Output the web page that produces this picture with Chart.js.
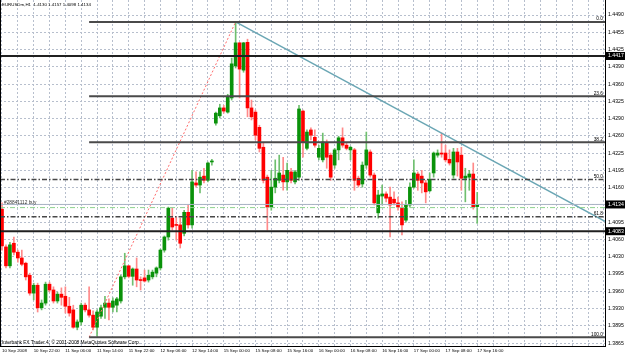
<!DOCTYPE html>
<html><head><meta charset="utf-8">
<script src="https://cdn.jsdelivr.net/npm/chart.js@4.4.0/dist/chart.umd.min.js"></script>
<style>html,body{margin:0;padding:0;background:#fff;overflow:hidden}canvas{display:block}</style>
</head><body>
<canvas id="c" width="625" height="357"></canvas>
<script>
// ---- data (EURUSDm, H1) ----
const openP = [1.4125,1.4053,1.4017,1.4060,1.4043,1.4032,1.4022,1.3999,1.3965,1.3980,
1.3937,1.3946,1.3982,1.3971,1.3950,1.3963,1.3959,1.3940,1.3933,1.3900,
1.3910,1.3942,1.3933,1.3923,1.3900,1.3921,1.3938,1.3946,1.3938,1.3942,
1.3950,1.3996,1.4017,1.3997,1.4011,1.3990,1.3994,1.3990,1.3996,1.4003,
1.4013,1.4047,1.4072,1.4108,1.4095,1.4095,1.4079,1.4119,1.4095,1.4175,
1.4171,1.4188,1.4180,1.4215,1.4289,1.4303,1.4318,1.4310,1.4337,1.4398,
1.4442,1.4390,1.4443,1.4318,1.4310,1.4281,1.4243,1.4186,1.4129,1.4167,
1.4180,1.4190,1.4177,1.4196,1.4177,1.4186,1.4312,1.4241,1.4276,1.4262,
1.4224,1.4219,1.4251,1.4228,1.4209,1.4238,1.4261,1.4247,1.4238,1.4238,
1.4184,1.4173,1.4209,1.4234,1.4190,1.4118,1.4150,1.4154,1.4148,1.4144,
1.4137,1.4127,1.4104,1.4133,1.4167,1.4192,1.4188,1.4175,1.4160,1.4194,
1.4228,1.4232,1.4232,1.4220,1.4190,1.4234,1.4228,1.4184,1.4186,1.4192,
1.4130];
const highP = [1.4137,1.4057,1.4062,1.4072,1.4047,1.4047,1.4024,1.4003,1.3984,1.3984,
1.3952,1.3986,1.3986,1.3977,1.3967,1.3975,1.3977,1.3957,1.3942,1.3914,
1.3946,1.3946,1.3977,1.3931,1.3933,1.3942,1.3959,1.3954,1.3956,1.3957,
1.3999,1.4041,1.4018,1.4013,1.4032,1.3996,1.4009,1.4009,1.4009,1.4015,
1.4049,1.4074,1.4129,1.4127,1.4110,1.4108,1.4123,1.4133,1.4199,1.4196,
1.4196,1.4203,1.4215,1.4220,1.4310,1.4325,1.4323,1.4344,1.4413,1.4482,
1.4443,1.4443,1.4449,1.4333,1.4314,1.4285,1.4251,1.4190,1.4199,1.4219,
1.4228,1.4224,1.4213,1.4203,1.4199,1.4323,1.4314,1.4276,1.4280,1.4276,
1.4247,1.4270,1.4257,1.4232,1.4241,1.4264,1.4280,1.4251,1.4245,1.4241,
1.4188,1.4215,1.4272,1.4238,1.4194,1.4161,1.4171,1.4158,1.4167,1.4158,
1.4148,1.4139,1.4142,1.4175,1.4219,1.4196,1.4199,1.4180,1.4194,1.4234,
1.4238,1.4270,1.4247,1.4238,1.4241,1.4241,1.4243,1.4203,1.4199,1.4213,
1.4157];
const lowP = [1.4047,1.4013,1.4013,1.4038,1.4024,1.4017,1.3990,1.3961,1.3952,1.3929,
1.3933,1.3942,1.3967,1.3946,1.3946,1.3942,1.3927,1.3921,1.3898,1.3895,
1.3904,1.3929,1.3919,1.3895,1.3883,1.3917,1.3917,1.3914,1.3929,1.3929,
1.3946,1.3992,1.3994,1.3980,1.3977,1.3971,1.3986,1.3986,1.3992,1.3996,
1.4009,1.4043,1.4066,1.4085,1.4066,1.4051,1.4074,1.4089,1.4089,1.4167,
1.4156,1.4175,1.4177,1.4209,1.4285,1.4299,1.4308,1.4308,1.4333,1.4394,
1.4337,1.4386,1.4301,1.4295,1.4257,1.4234,1.4175,1.4085,1.4123,1.4156,
1.4175,1.4161,1.4161,1.4175,1.4173,1.4180,1.4224,1.4238,1.4257,1.4243,
1.4219,1.4215,1.4203,1.4180,1.4203,1.4219,1.4243,1.4238,1.4219,1.4161,
1.4167,1.4167,1.4203,1.4186,1.4133,1.4108,1.4133,1.4139,1.4072,1.4133,
1.4123,1.4076,1.4100,1.4129,1.4165,1.4161,1.4156,1.4137,1.4158,1.4186,
1.4224,1.4224,1.4215,1.4209,1.4184,1.4188,1.4161,1.4139,1.4161,1.4125,
1.4098];
const closeP = [1.4055,1.4017,1.4057,1.4043,1.4032,1.4020,1.3996,1.3965,1.3980,1.3937,
1.3946,1.3982,1.3971,1.3950,1.3963,1.3957,1.3940,1.3927,1.3900,1.3910,
1.3942,1.3933,1.3923,1.3900,1.3929,1.3937,1.3946,1.3938,1.3950,1.3954,
1.3996,1.4017,1.3997,1.4011,1.3990,1.3989,1.3988,1.3999,1.4005,1.4013,
1.4047,1.4072,1.4127,1.4091,1.4094,1.4060,1.4119,1.4095,1.4177,1.4171,
1.4186,1.4180,1.4213,1.4216,1.4308,1.4318,1.4312,1.4339,1.4402,1.4442,
1.4392,1.4442,1.4318,1.4301,1.4266,1.4241,1.4180,1.4129,1.4167,1.4184,
1.4194,1.4177,1.4199,1.4180,1.4196,1.4316,1.4253,1.4272,1.4266,1.4247,
1.4241,1.4253,1.4224,1.4186,1.4238,1.4261,1.4247,1.4241,1.4243,1.4180,
1.4171,1.4209,1.4238,1.4190,1.4137,1.4152,1.4154,1.4146,1.4133,1.4137,
1.4129,1.4095,1.4133,1.4167,1.4194,1.4180,1.4175,1.4158,1.4182,1.4232,
1.4232,1.4230,1.4219,1.4213,1.4234,1.4215,1.4184,1.4188,1.4192,1.4129,
1.4134];

const xLabels = ['10 Sep 2008','10 Sep 22:00','11 Sep 06:00','11 Sep 14:00','11 Sep 22:00','12 Sep 06:00','12 Sep 14:00','15 Sep 00:00','15 Sep 08:00','15 Sep 16:00','16 Sep 00:00','16 Sep 08:00','16 Sep 16:00','17 Sep 00:00','17 Sep 08:00','17 Sep 16:00'];
// price-axis labels, bottom to top
const yLabels = ['1.3865','1.3895','1.3930','1.3960','1.3995','1.4030','1.4060','1.4095','1.4125','1.4160','1.4195','1.4225','1.4260','1.4290','1.4325','1.4360','1.4390','1.4425','1.4455','1.4490'];
const yTickBottom = 1.38697, yTickTop = 1.44951;
const yMin = 1.38642, yMax = 1.45237;
const xMin = -0.505, xMax = 152.27;

const hLinePrices = [1.4417, 1.4083];
const bidPrice = 1.4134;
const orderPrice = 1.4128;
const orderLabel = '#28841112 buy';
const fibHighBar = 59, fibHigh = 1.4482, fibLowBar = 22, fibLow = 1.3881;
const fibLevels = [0.0, 23.6, 38.2, 50.0, 61.8, 100.0];
const fibLevelText = ['0.0','23.6','38.2','50.0','61.8','100.0'];
const trendA = {x: 59, y: 1.4482}, trendB = {x: 111, y: 1.4270};
const titleText = 'EURUSDm,H1  1.4130 1.4157 1.4098 1.4134';
const copyrightText = 'Interbank FX Trader 4, \u00A9 2001-2008 MetaQuotes Software Corp.';

// ---- build datasets ----
const UP = '#0a920a', DOWN = '#ff0000', UPW = '#6fbf6f', DOWNW = '#ff8a8a';
const idx = openP.map((_, i) => i);
const isUp = i => closeP[i] >= openP[i];
const bodies = idx.map(i => ({x: i, y: [openP[i], closeP[i]]}));
const wicks = idx.map(i => ({x: i, y: [lowP[i], highP[i]]}));

const fibPrice = r => fibHigh - r / 100 * (fibHigh - fibLow);
function hline(price, x0, x1, color, width, dash) {
  return {type: 'line', data: [{x: x0, y: price}, {x: x1, y: price}], borderColor: color,
    borderWidth: width, borderDash: dash || [], pointRadius: 0, fill: false, order: 0, tension: 0};
}
const lineSets = [];
fibLevels.forEach(r => {
  if (r === 50.0 || r === 61.8) lineSets.push(hline(fibPrice(r), xMin, xMax, '#484848', 1.6, [5, 2, 1.5, 2]));
  else lineSets.push(hline(fibPrice(r), fibLowBar, xMax, '#4a4a4a', 2));
});
hLinePrices.forEach(p => lineSets.push(hline(p, xMin, xMax, '#202020', 2)));
lineSets.push(hline(bidPrice, xMin, xMax, '#a9b3c4', 1));
lineSets.push(hline(orderPrice, xMin, xMax, '#8fd28f', 1, [5, 2, 1, 2]));
const slope = (trendB.y - trendA.y) / (trendB.x - trendA.x);
lineSets.push({type: 'line', data: [trendA, trendB, {x: xMax, y: trendA.y + slope * (xMax - trendA.x)}],
  borderColor: '#6aa6b4', borderWidth: 1.5, pointRadius: 0, fill: false, order: 0, tension: 0});
lineSets.push({type: 'line', data: [{x: fibLowBar, y: fibLow}, {x: fibHighBar, y: fibHigh}],
  borderColor: '#ff6c6c', borderWidth: 1, borderDash: [2, 2], pointRadius: 0, fill: false, order: 0, tension: 0});

const FONT = 'Liberation Sans, Arial, sans-serif';
const yTickValues = yLabels.map((l, k) => yTickBottom + k * (yTickTop - yTickBottom) / (yLabels.length - 1));

const overlay = {
  id: 'overlay',
  afterDraw(chart) {
    const {ctx, chartArea: a, scales: {y}} = chart;
    ctx.save();
    ctx.strokeStyle = '#000'; ctx.lineWidth = 1;
    ctx.beginPath(); ctx.moveTo(a.left + 0.5, a.top); ctx.lineTo(a.left + 0.5, a.bottom); ctx.stroke();
    ctx.textBaseline = 'middle';
    ctx.fillStyle = '#000';
    ctx.textAlign = 'left';
    ctx.font = '4.4px ' + FONT;
    ctx.fillText(titleText, 2, 5);
    ctx.font = '4.8px ' + FONT;
    ctx.fillText(copyrightText, 2, a.bottom - 3);
    ctx.fillStyle = '#333';
    ctx.fillText(orderLabel, 4, y.getPixelForValue(orderPrice) - 5);
    ctx.fillStyle = '#000';
    ctx.textAlign = 'right';
    fibLevels.forEach((r, k) => {
      ctx.fillText(fibLevelText[k], a.right - 2, y.getPixelForValue(fibPrice(r)) - 3);
    });
    ctx.textAlign = 'left';
    ctx.font = '5.2px ' + FONT;
    [hLinePrices[0], bidPrice, hLinePrices[1]].forEach(p => {
      const py = y.getPixelForValue(p);
      ctx.fillStyle = '#000';
      ctx.fillRect(a.right + 1, py - 4, 625 - a.right - 1, 8);
      ctx.fillStyle = '#fff';
      ctx.fillText(p.toFixed(4), a.right + 3, py);
    });
    ctx.restore();
  }
};

new Chart(document.getElementById('c'), {
  type: 'bar',
  data: {
    datasets: [
      ...lineSets,
      {type: 'bar', data: bodies, order: 1, grouped: false, barThickness: 3, minBarLength: 1,
        backgroundColor: idx.map(i => isUp(i) ? UP : DOWN), borderWidth: 0},
      {type: 'bar', data: wicks, order: 2, grouped: false, barThickness: 1,
        backgroundColor: idx.map(i => isUp(i) ? UPW : DOWNW), borderWidth: 0}
    ]
  },
  options: {
    responsive: false, animation: false, devicePixelRatio: 1,
    layout: {padding: 0},
    plugins: {legend: {display: false}, tooltip: {enabled: false}},
    scales: {
      x: {
        type: 'linear', min: xMin, max: xMax, offset: false,
        afterBuildTicks: s => { const t = []; for (let v = 0; v <= xMax; v += 4) t.push({value: v}); s.ticks = t; },
        ticks: {
          callback: v => (v % 8 === 0 && xLabels[v / 8]) ? xLabels[v / 8] : '',
          align: 'start', maxRotation: 0, minRotation: 0, autoSkip: false,
          font: {family: FONT, size: 4.4}, color: '#000', padding: 2
        },
        grid: {color: '#b7bfcd', drawTicks: false, lineWidth: 1, offset: false},
        border: {display: true, color: '#000', width: 1, dash: [2, 2]},
        afterFit: s => { s.height = 11; s.paddingLeft = 0; s.paddingRight = 0; }
      },
      y: {
        type: 'linear', position: 'right', min: yMin, max: yMax,
        afterBuildTicks: s => { s.ticks = yTickValues.map(v => ({value: v})); },
        ticks: {
          callback: (v, i) => yLabels[i], autoSkip: false, z: 1,
          font: {family: FONT, size: 5.2}, color: '#000', padding: 3
        },
        grid: {color: '#b7bfcd', drawTicks: false, lineWidth: 1, offset: false},
        border: {display: true, color: '#000', width: 1, dash: [2, 2]},
        afterFit: s => { s.width = 20; s.paddingTop = 0; s.paddingBottom = 0; }
      }
    }
  },
  plugins: [overlay]
});
</script>
</body></html>
